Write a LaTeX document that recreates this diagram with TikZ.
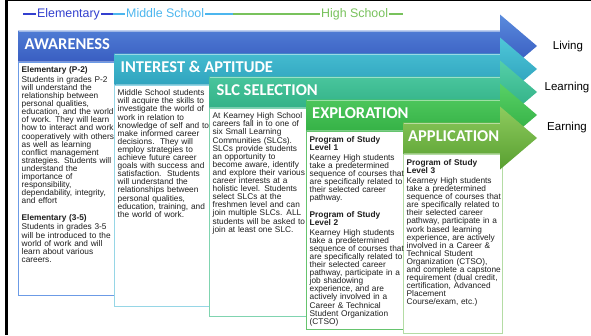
\documentclass[tikz,border=0pt]{standalone}
\usepackage{fontspec}
\setmainfont{Liberation Sans}
\newfontfamily\bandfont{Carlito}
\definecolor{elemblue}{HTML}{3340CF}
\definecolor{midblue}{HTML}{4CB6EE}
\definecolor{hsgreen}{HTML}{78C25C}
\definecolor{bAtop}{HTML}{5A8BDD}
\definecolor{bAbot}{HTML}{2E4EB8}
\definecolor{bBtop}{HTML}{4FC7D8}
\definecolor{bBbot}{HTML}{2598B6}
\definecolor{bCtop}{HTML}{55CFA8}
\definecolor{bCbot}{HTML}{27A87C}
\definecolor{bDtop}{HTML}{58D066}
\definecolor{bDbot}{HTML}{2AA83C}
\definecolor{bEtop}{HTML}{8ECB5E}
\definecolor{bEbot}{HTML}{589F30}
\definecolor{frA}{HTML}{6C9BE6}
\definecolor{frB}{HTML}{96D6E6}
\definecolor{frC}{HTML}{80D4B0}
\definecolor{frD}{HTML}{66C46E}
\definecolor{frE}{HTML}{B4DCA4}
\definecolor{textgray}{HTML}{1E1E1E}
\newcommand\drawband[4]{%
  \shade[top color=#3, bottom color=#4]
    (#1,#2-15.5) -- (500,#2-15.5) -- (500,#2-31.5) -- (537,#2) -- (500,#2+31.5)
    -- (500,#2+15.5) -- (#1,#2+15.5) -- cycle;
  \draw[white, opacity=0.45, line width=0.8pt] (#1+0.5,#2-15) -- (500,#2-15);
}
\tikzset{
  bandtext/.style={font=\bandfont\bfseries\fontsize{16.5}{18}\selectfont, text=white,
    anchor=west, inner sep=0pt, text height=11pt, text depth=0pt},
  boxframe/.style={draw=#1, line width=0.9pt, anchor=north west, inner sep=0pt, fill=white},
  boxtext/.style={font=\fontsize{8.3}{8.1}\selectfont, text=textgray, anchor=north west,
    inner sep=0pt, align=left, text width=110pt},
  headtext/.style={font=\fontsize{12.4}{14}\selectfont, inner sep=1pt, anchor=west,
    text height=9pt, text depth=2.6pt},
  outtext/.style={font=\fontsize{11.5}{13}\selectfont, text=black, inner sep=0pt},
  headline/.style={line width=1.3pt}
}
\begin{document}
\begin{tikzpicture}[x=1pt,y=-1pt]
\useasboundingbox[fill=white] (0,0) rectangle (591,335);
% frame
\draw[line width=2.5pt] (6.5,0) -- (6.5,335);
\draw[line width=1.2pt] (5,0.6) -- (591,0.6);
% header
\node[headtext, text=elemblue] (elem) at (36,14) {Elementary};
\node[headtext, text=midblue] (mid) at (125,14) {Middle School};
\node[headtext, text=hsgreen] (hs) at (320,14) {High School};
\coordinate (h0) at (23,14);
\coordinate (h1) at (113,14);
\coordinate (h2) at (233,14);
\coordinate (h3) at (403,14);
\draw[headline, elemblue] (h0) -- (elem.west) (elem.east) -- (h1);
\draw[headline, midblue] (h1) -- (mid.west) (mid.east) -- (h2);
\draw[headline, hsgreen] (h2) -- (hs.west) (hs.east) -- (h3);
% boxes and bands
\node[boxframe=frA, minimum width=97pt, minimum height=233.5pt] (boxA) at (18,61.5) {};
\drawband{18}{46}{bAtop}{bAbot}
\node[boxframe=frB, minimum width=95pt, minimum height=221.5pt] (boxB) at (114,84.5) {};
\drawband{114}{69}{bBtop}{bBbot}
\node[boxframe=frC, minimum width=97pt, minimum height=208.5pt] (boxC) at (209,107.5) {};
\drawband{209}{92}{bCtop}{bCbot}
\node[boxframe=frD, minimum width=97pt, minimum height=198.5pt] (boxD) at (306,130.5) {};
\drawband{306}{115}{bDtop}{bDbot}
\node[boxframe=frE, minimum width=99pt, minimum height=179.5pt] (boxE) at (403,153.5) {};
\drawband{403}{138}{bEtop}{bEbot}
% band titles
\node[bandtext] (tA) at (24.5,44) {AWARENESS};
\node[bandtext] (tB) at (120.5,66.5) {INTEREST \& APTITUDE};
\node[bandtext] (tC) at (216.5,89.5) {SLC SELECTION};
\node[bandtext] (tD) at (312,112.5) {EXPLORATION};
\node[bandtext] (tE) at (408,135.5) {APPLICATION};
% right labels
\node[outtext] (living) at (568,47) {Living};
\node[outtext] (learning) at (567,88) {Learning};
\node[outtext] (earning) at (567,128) {Earning};
% box texts
\node[boxtext] (xA) at (21.5,66.5) {{\bfseries Elementary (P-2)}\\[1.5pt]
Students in grades P-2\\ will understand the\\ relationship between\\ personal qualities,\\
education, and the world\\ of work. They will learn\\ how to interact and work\\
cooperatively with others\\ as well as learning\\ conflict management\\
strategies. Students will\\ understand the\\ importance of\\ responsibility,\\
dependability, integrity,\\ and effort\\[8.4pt]
{\bfseries Elementary (3-5)}\\[1.5pt]
Students in grades 3-5\\ will be introduced to the\\ world of work and will\\
learn about various\\ careers.};
\node[boxtext] (xB) at (117.5,89.5) {Middle School students\\ will acquire the skills to\\
investigate the world of\\ work in relation to\\ knowledge of self and to\\
make informed career\\ decisions.\ \ They will\\ employ strategies to\\
achieve future career\\ goals with success and\\ satisfaction.\ \ Students\\
will understand the\\ relationships between\\ personal qualities,\\
education, training, and\\ the world of work.};
\node[boxtext] (xC) at (212.5,112.5) {At Kearney High School\\ careers fall in to one of\\
six Small Learning\\ Communities (SLCs).\\ SLCs provide students\\ an opportunity to\\
become aware, identify\\ and explore their various\\ career interests at a\\
holistic level. Students\\ select SLCs at the\\ freshmen level and can\\
join multiple SLCs. ALL\\ students will be asked to\\ join at least one SLC.};
\node[boxtext] (xD) at (309.5,136.5) {{\bfseries Program of Study}\\ {\bfseries Level 1}\\[1.5pt]
Kearney High students\\ take a predetermined\\ sequence of courses that\\
are specifically related to\\ their selected career\\ pathway.\\[8.4pt]
{\bfseries Program of Study}\\ {\bfseries Level 2}\\[1.5pt]
Kearney High students\\ take a predetermined\\ sequence of courses that\\
are specifically related to\\ their selected career\\ pathway, participate in a\\
job shadowing\\ experience, and are\\ actively involved in a\\ Career \& Technical\\
Student Organization\\ (CTSO)};
\node[boxtext] (xE) at (406.5,159.5) {{\bfseries Program of Study}\\ {\bfseries Level 3}\\[1.5pt]
Kearney High students\\ take a predetermined\\ sequence of courses that\\
are specifically related to\\ their selected career\\ pathway, participate in a\\
work based learning\\ experience, are actively\\ involved in a Career \&\\
Technical Student\\ Organization (CTSO),\\ and complete a capstone\\
requirement (dual credit,\\ certification, Advanced\\ Placement\\ Course/exam, etc.)};
\end{tikzpicture}
\end{document}
